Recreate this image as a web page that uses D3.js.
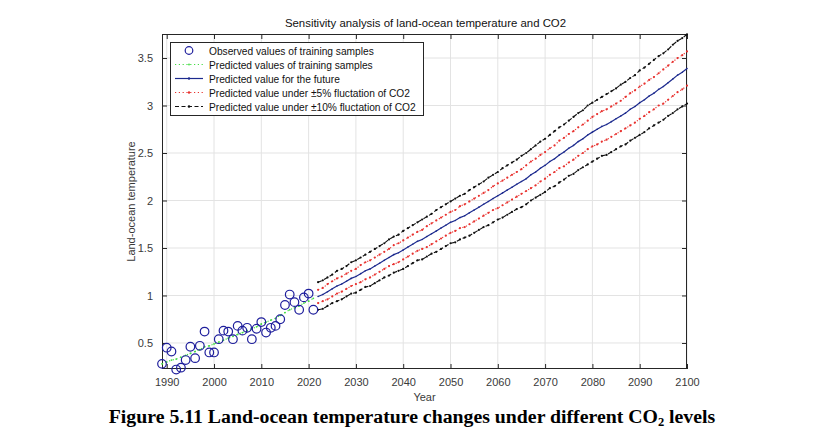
<!DOCTYPE html>
<html><head><meta charset="utf-8">
<script src="https://cdn.jsdelivr.net/npm/d3@7"></script>
<style>
body{margin:0;background:#fff;}
svg{display:block;}
text{font-family:"Liberation Sans",Arial,sans-serif;}
</style></head>
<body><svg id="c" width="829" height="432"></svg>
<script>
// ---- data ----
const obsYears = d3.range(1989, 2022);
const obsValues = [0.28,0.45,0.41,0.22,0.24,0.32,0.46,0.34,0.47,0.62,0.40,0.40,0.54,0.63,0.62,0.54,0.68,0.63,0.66,0.54,0.65,0.72,0.61,0.66,0.68,0.75,0.90,1.01,0.93,0.85,0.98,1.02,0.85];
const trainPred = [0.28,0.30,0.32,0.33,0.35,0.37,0.39,0.41,0.43,0.46,0.47,0.49,0.51,0.53,0.55,0.57,0.59,0.61,0.63,0.65,0.67,0.70,0.72,0.74,0.76,0.79,0.82,0.85,0.87,0.89,0.92,0.94,0.97];
const futYears = d3.range(2022, 2101);
const futMain = [0.99,1.01,1.04,1.07,1.10,1.12,1.15,1.18,1.20,1.23,1.26,1.28,1.31,1.34,1.37,1.40,1.43,1.45,1.48,1.51,1.54,1.57,1.59,1.62,1.65,1.68,1.71,1.74,1.77,1.79,1.82,1.84,1.87,1.90,1.93,1.96,1.99,2.02,2.05,2.08,2.11,2.14,2.17,2.20,2.23,2.27,2.30,2.34,2.37,2.41,2.44,2.48,2.51,2.55,2.58,2.62,2.65,2.69,2.72,2.75,2.78,2.80,2.83,2.86,2.89,2.92,2.96,2.99,3.03,3.06,3.10,3.13,3.17,3.20,3.24,3.28,3.32,3.35,3.39];
const up10 = [1.14,1.16,1.19,1.22,1.26,1.28,1.31,1.35,1.37,1.40,1.43,1.46,1.49,1.52,1.55,1.59,1.62,1.64,1.68,1.71,1.74,1.77,1.80,1.83,1.86,1.90,1.93,1.96,1.99,2.02,2.05,2.07,2.11,2.14,2.17,2.20,2.24,2.27,2.30,2.34,2.37,2.40,2.43,2.47,2.50,2.54,2.58,2.62,2.65,2.69,2.73,2.77,2.80,2.84,2.88,2.92,2.95,3.00,3.03,3.06,3.09,3.12,3.15,3.18,3.22,3.25,3.29,3.32,3.37,3.40,3.44,3.48,3.52,3.55,3.59,3.64,3.68,3.71,3.75];
const up5 = [1.06,1.08,1.12,1.15,1.18,1.20,1.23,1.26,1.28,1.32,1.35,1.37,1.40,1.43,1.46,1.49,1.53,1.55,1.58,1.61,1.64,1.67,1.69,1.73,1.76,1.79,1.82,1.85,1.88,1.90,1.94,1.96,1.99,2.02,2.05,2.08,2.11,2.15,2.18,2.21,2.24,2.27,2.30,2.33,2.37,2.41,2.44,2.48,2.51,2.55,2.58,2.63,2.66,2.70,2.73,2.77,2.80,2.84,2.88,2.91,2.94,2.96,2.99,3.02,3.05,3.09,3.13,3.16,3.20,3.23,3.27,3.30,3.34,3.38,3.42,3.46,3.50,3.53,3.57];
const lo5 = [0.92,0.94,0.96,0.99,1.02,1.04,1.07,1.10,1.12,1.14,1.17,1.19,1.22,1.25,1.28,1.31,1.33,1.35,1.38,1.41,1.44,1.47,1.49,1.51,1.54,1.57,1.60,1.63,1.66,1.68,1.71,1.72,1.75,1.78,1.81,1.84,1.87,1.90,1.92,1.95,1.98,2.01,2.04,2.07,2.10,2.13,2.16,2.20,2.23,2.27,2.30,2.34,2.36,2.40,2.43,2.47,2.50,2.54,2.57,2.59,2.62,2.64,2.67,2.70,2.73,2.76,2.79,2.82,2.86,2.89,2.93,2.96,3.00,3.02,3.06,3.10,3.14,3.17,3.21];
const lo10 = [0.85,0.86,0.89,0.92,0.94,0.96,0.99,1.02,1.03,1.06,1.09,1.10,1.13,1.16,1.19,1.21,1.24,1.26,1.28,1.31,1.34,1.37,1.38,1.41,1.44,1.46,1.49,1.52,1.55,1.56,1.59,1.61,1.63,1.66,1.69,1.72,1.74,1.77,1.80,1.82,1.85,1.88,1.91,1.93,1.96,2.00,2.03,2.06,2.09,2.13,2.15,2.19,2.22,2.26,2.28,2.32,2.35,2.38,2.41,2.44,2.47,2.48,2.51,2.54,2.57,2.59,2.63,2.66,2.69,2.72,2.76,2.79,2.82,2.85,2.89,2.92,2.96,2.99,3.02];
const xTicks = [1990,2000,2010,2020,2030,2040,2050,2060,2070,2080,2090,2100];
const yTicks = [0.5,1,1.5,2,2.5,3,3.5];
const legendLabels = ["Observed values of training samples","Predicted values of training samples","Predicted value for the future","Predicted value under \u00b15% fluctation of CO2","Predicted value under \u00b110% fluctation of CO2"];

// ---- layout ----
const L = 162, R = 687, T = 34, B = 369;
const svg = d3.select("#c");
const x = d3.scaleLinear().domain([1989, 2100]).range([L, R]);
const y = d3.scaleLinear().domain([0.226, 3.753]).range([B, T]);
const axisCol = "#262626";

// grid
const g = svg.append("g");
g.selectAll(".gx").data(xTicks).join("line")
  .attr("x1", d=>x(d)).attr("x2", d=>x(d)).attr("y1", T).attr("y2", B)
  .attr("stroke", "#e3e3e3").attr("stroke-width", 1);
g.selectAll(".gy").data(yTicks).join("line")
  .attr("x1", L).attr("x2", R).attr("y1", d=>y(d)).attr("y2", d=>y(d))
  .attr("stroke", "#e3e3e3").attr("stroke-width", 1);

// axes
const fmt = d => d3.format("~g")(d);
const ax = [
  {a: d3.axisBottom(x).tickValues(xTicks).tickFormat(fmt).tickSizeInner(-5).tickSizeOuter(0).tickPadding(9), t: `translate(0,${B})`},
  {a: d3.axisTop(x).tickValues(xTicks).tickSizeInner(-5).tickSizeOuter(0).tickFormat(""), t: `translate(0,${T})`},
  {a: d3.axisLeft(y).tickValues(yTicks).tickFormat(fmt).tickSizeInner(-5).tickSizeOuter(0).tickPadding(9), t: `translate(${L},0)`},
  {a: d3.axisRight(y).tickValues(yTicks).tickSizeInner(-5).tickSizeOuter(0).tickFormat(""), t: `translate(${R},0)`}
];
ax.forEach(o => {
  const gg = svg.append("g").attr("transform", o.t).call(o.a);
  gg.select(".domain").remove();
  gg.selectAll("line").attr("stroke", axisCol);
  gg.selectAll("text").attr("fill", "#3a3a3a").style("font-size", "11px");
});
svg.append("rect").attr("x", L+0.5).attr("y", T+0.5).attr("width", R-L-1).attr("height", B-T-1)
  .attr("fill", "none").attr("stroke", axisCol).attr("stroke-width", 1);

// lines
const line = (xs, ys) => d3.line().x((d,i)=>x(xs[i])).y(d=>y(d))(ys);
const series = [
  {xs: obsYears, ys: trainPred, col: "#44dd44", dash: "1.2,2.6", w: 1.2, mk: 0.9},
  {xs: futYears, ys: up10, col: "#111", dash: "4,2.5", w: 1.1, mk: 1.1},
  {xs: futYears, ys: lo10, col: "#111", dash: "4,2.5", w: 1.1, mk: 1.1},
  {xs: futYears, ys: up5, col: "#e8322f", dash: "1.2,2.6", w: 1.1, mk: 1.1},
  {xs: futYears, ys: lo5, col: "#e8322f", dash: "1.2,2.6", w: 1.1, mk: 1.1},
  {xs: futYears, ys: futMain, col: "#1c2a8e", dash: null, w: 1.2, mk: 0.8}
];
series.forEach(s => {
  svg.append("path").attr("d", line(s.xs, s.ys)).attr("fill", "none")
    .attr("stroke", s.col).attr("stroke-width", s.w).attr("stroke-dasharray", s.dash);
  svg.append("g").selectAll("circle").data(s.ys).join("circle")
    .attr("cx", (d,i)=>x(s.xs[i])).attr("cy", d=>y(d)).attr("r", s.mk).attr("fill", s.col);
});

// observed circles
svg.append("g").selectAll("circle").data(obsValues).join("circle")
  .attr("cx", (d,i)=>x(obsYears[i])).attr("cy", d=>y(d)).attr("r", 4.3)
  .attr("fill", "none").attr("stroke", "#1e1e9c").attr("stroke-width", 1.2);

// legend
const lg = svg.append("g");
lg.append("rect").attr("x", 170.5).attr("y", 42.5).attr("width", 253).attr("height", 73)
  .attr("fill", "#fff").attr("stroke", axisCol).attr("stroke-width", 1);
const ly = i => 50.5 + i * 14;
const lsty = [
  null,
  {col: "#44dd44", dash: "1.2,2.6", mk: 0.9},
  {col: "#1c2a8e", dash: null, mk: 1.2},
  {col: "#e8322f", dash: "1.2,2.6", mk: 1.2},
  {col: "#111", dash: "4,2.5", mk: 1.3}
];
legendLabels.forEach((lab, i) => {
  if (i === 0) {
    lg.append("circle").attr("cx", 189).attr("cy", ly(i)).attr("r", 3.8)
      .attr("fill", "none").attr("stroke", "#1e1e9c").attr("stroke-width", 1.2);
  } else {
    const st = lsty[i];
    lg.append("line").attr("x1", 175).attr("x2", 203).attr("y1", ly(i)).attr("y2", ly(i))
      .attr("stroke", st.col).attr("stroke-width", 1.2).attr("stroke-dasharray", st.dash);
    lg.append("circle").attr("cx", 189).attr("cy", ly(i)).attr("r", st.mk).attr("fill", st.col);
  }
  lg.append("text").attr("x", 209).attr("y", ly(i) + 4).text(lab)
    .style("font-size", "10.2px").attr("fill", "#111");
});

// titles
svg.append("text").attr("x", (L+R)/2 + 1).attr("y", 27).attr("text-anchor", "middle")
  .style("font-size", "11.4px").attr("fill", "#111").text("Sensitivity analysis of land-ocean temperature and CO2");
svg.append("text").attr("x", (L+R)/2).attr("y", 401).attr("text-anchor", "middle")
  .style("font-size", "11px").attr("fill", "#3a3a3a").text("Year");
svg.append("text").attr("transform", `translate(135,${(T+B)/2}) rotate(-90)`).attr("text-anchor", "middle")
  .style("font-size", "11px").attr("fill", "#3a3a3a").text("Land-ocean temperature");

// caption
const cap = svg.append("text").attr("x", 412).attr("y", 423).attr("text-anchor", "middle")
  .style("font-family", "'Liberation Serif','Times New Roman',serif").style("font-size", "19.8px")
  .style("font-weight", "bold").attr("fill", "#000");
cap.append("tspan").text("Figure 5.11 Land-ocean temperature changes under different CO");
cap.append("tspan").text("2").style("font-size", "12.5px").attr("dy", 3);
cap.append("tspan").text(" levels").attr("dy", -3);
</script></body></html>
